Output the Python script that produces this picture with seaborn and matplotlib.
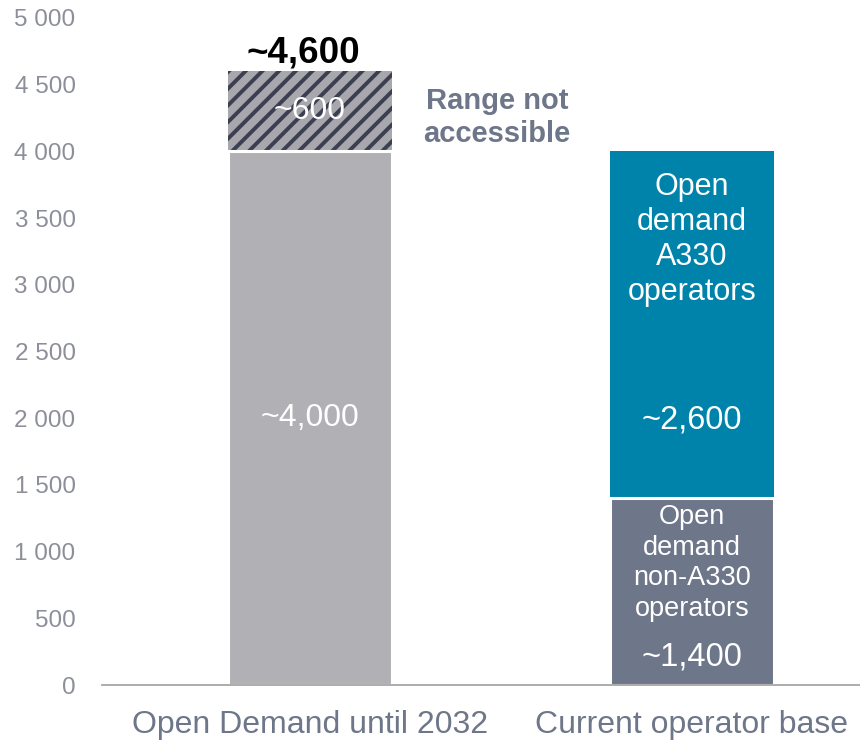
import matplotlib
matplotlib.use("Agg")
import matplotlib.pyplot as plt
import seaborn as sns
import pandas as pd

categories = ["Open Demand until 2032", "Current operator base"]
base_values = [4000, 1400]
top_values = [600, 2600]
base_labels = ["~4,000", "~1,400"]
top_labels = ["~600", "~2,600"]
total_label = "~4,600"
segment_names = ["Open\ndemand\nnon-A330\noperators", "Open\ndemand\nA330\noperators"]
annotation = "Range not\naccessible"
y_ticks = [0, 500, 1000, 1500, 2000, 2500, 3000, 3500, 4000, 4500, 5000]

sns.set_style("white")
plt.rcParams['font.family'] = ['Liberation Sans', 'DejaVu Sans']
plt.rcParams['hatch.linewidth'] = 2.8

GRAY = "#b1b0b5"
HATCH_BG = "#a7a7ad"
HATCH_FG = "#3c3f50"
BLUE = "#0083ab"
SLATE = "#6e7689"
TXT = "#6e7689"

totals = [b + t for b, t in zip(base_values, top_values)]
df = pd.DataFrame({"category": categories, "base": base_values, "total": totals})

fig = plt.figure(figsize=(8.6, 7.4), dpi=100)
ax = fig.add_axes([0.1186, 0.0743, 0.8814, 0.9014])

w = 0.427
sns.barplot(data=df, x="category", y="total", hue="category", order=categories,
            hue_order=categories, palette=[HATCH_BG, BLUE], width=w, saturation=1,
            linewidth=0, legend=False, ax=ax)
hp = ax.patches[0]
hp.set_hatch('//')
hp.set_edgecolor(HATCH_FG)
hp.set_linewidth(0)

sns.barplot(data=df, x="category", y="base", hue="category", order=categories,
            hue_order=categories, palette=[GRAY, SLATE], width=w, saturation=1,
            edgecolor="white", linewidth=2.2, legend=False, ax=ax)

ax.set_ylim(0, 5000)
x_left = -0.5445
x_right = 1.4398
ax.set_xlim(x_left, x_right)
ax.set_yticks(y_ticks)
ax.set_yticklabels([f"{v:,}".replace(",", " ") for v in y_ticks])
ax.tick_params(axis='y', length=0, pad=19, labelsize=17.5, labelcolor="#8c8f99")
ax.set_xticks([0, 1])
ax.set_xticklabels(categories)
ax.tick_params(axis='x', which='major', length=0, pad=18, labelsize=23, labelcolor=TXT)
ax.set_xticks([x_left, 0.542], minor=True)
ax.tick_params(axis='x', which='minor', length=9, width=1.3, color="#a6a6a6", direction='out')
ax.set_xlabel("")
ax.set_ylabel("")
for s in ["left", "right", "top"]:
    ax.spines[s].set_visible(False)
ax.spines["bottom"].set_color("#a6a6a6")
ax.spines["bottom"].set_linewidth(1.3)

# labels
ax.text(0, base_values[0] / 2, base_labels[0], ha='center', va='center', color='white', fontsize=23)
ax.text(0, base_values[0] + top_values[0] / 2, top_labels[0], ha='center', va='center', color='white', fontsize=23)
ax.text(-0.018, totals[0] + 70, total_label, ha='center', va='baseline', color='black', fontsize=26.5, fontweight='bold')
ax.text(0.49, base_values[0] + top_values[0] / 2 - 45, annotation, ha='center', va='center', color=TXT,
        fontsize=21, fontweight='bold', linespacing=1.25)

ax.text(1, base_values[1] + 1940, segment_names[1], ha='center', va='center', color='white', fontsize=22, linespacing=1.22)
ax.text(1, 1990, top_labels[1], ha='center', va='center', color='white', fontsize=23.5)
ax.text(1, 915, segment_names[0], ha='center', va='center', color='white', fontsize=19.5, linespacing=1.22)
ax.text(1, 210, base_labels[1], ha='center', va='center', color='white', fontsize=23.5)

fig.savefig("out.png", dpi=100)
